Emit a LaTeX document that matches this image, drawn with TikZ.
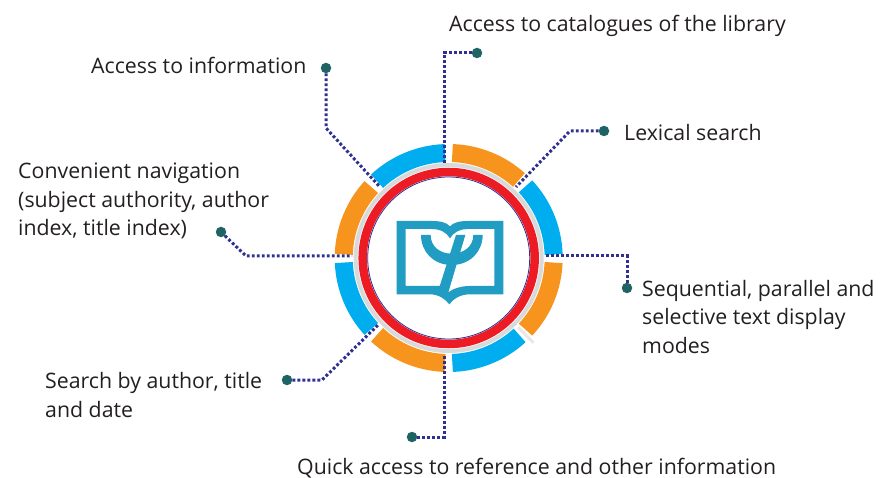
\documentclass[tikz,border=0pt]{standalone}
\usepackage{fontspec}
\setmainfont{Open Sans}
\definecolor{ringblue}{HTML}{00AEEF}
\definecolor{ringorange}{HTML}{F7941D}
\definecolor{ringred}{HTML}{ED1C24}
\definecolor{ringgray}{HTML}{D9D9D9}
\definecolor{bookblue}{HTML}{219DC3}
\definecolor{linknavy}{HTML}{2E3192}
\definecolor{dotteal}{HTML}{1F6464}
\definecolor{textcol}{HTML}{231F20}
\tikzset{
  label/.style={anchor=west,align=left,inner sep=0pt,text=textcol,font=\fontsize{21.3}{28.5}\selectfont},
  pin/.style={circle,fill=dotteal,inner sep=0pt,minimum size=10.5pt},
  link/.style={draw=linknavy,line width=3pt,dash pattern=on 2.8pt off 2.2pt},
  segblue/.style={draw=ringblue,line width=18pt},
  segorange/.style={draw=ringorange,line width=18pt}
}
\begin{document}
\begin{tikzpicture}[x=1pt,y=-1pt]
\useasboundingbox (0,0) rectangle (881,478);
% connectors
\node[pin] (p1) at (326,68) {};
\node[pin] (p2) at (477,53) {};
\node[pin] (p3) at (604,131) {};
\node[pin] (p4) at (627,288) {};
\node[pin] (p5) at (412,437) {};
\node[pin] (p6) at (287,380) {};
\node[pin] (p7) at (221,232) {};
\coordinate (e1) at (379,186);
\coordinate (e2) at (444,163);
\coordinate (e3) at (516,187);
\coordinate (e4) at (546,256);
\coordinate (e5) at (444,354);
\coordinate (e6) at (378,325);
\coordinate (e7) at (352,256);
% ring
\begin{scope}[shift={(448.7,258)},x=1pt,y=1pt]
  \draw[segblue]   (92:105pt)   arc[start angle=92,end angle=133,radius=105pt];
  \draw[segorange] (88:105pt)   arc[start angle=88,end angle=48,radius=105pt];
  \draw[segblue]   (43:105pt)   arc[start angle=43,end angle=2,radius=105pt];
  \draw[segorange] (-2.5:105pt) arc[start angle=-2.5,end angle=-43,radius=105pt];
  \draw[segblue]   (-47.5:105pt) arc[start angle=-47.5,end angle=-88,radius=105pt];
  \draw[segorange] (-92:105pt)  arc[start angle=-92,end angle=-133,radius=105pt];
  \draw[segblue]   (-137.5:105pt) arc[start angle=-137.5,end angle=-177.5,radius=105pt];
  \draw[segorange] (178:105pt)  arc[start angle=178,end angle=137.5,radius=105pt];
  \draw[ringgray!60,line width=3pt] (-45:98pt) -- (-45:120pt);
  \fill[ringgray] (0,0) circle[radius=95pt];
  \fill[white] (0,0) circle[radius=91pt];
  \draw[ringred,line width=8.5pt] (0,0) circle[radius=86pt];
  \draw[linknavy,line width=0.8pt] (0,0) circle[radius=81pt];
\end{scope}
\draw[link] (p1) -- (326,128) -- (e1);
\draw[link] (p2) -- (444,53) -- (e2);
\draw[link] (p3) -- (570,131) -- (e3);
\draw[link] (p4) -- (627,256) -- (e4);
\draw[link] (p5) -- (444,437) -- (e5);
\draw[link] (p6) -- (322,380) -- (e6);
\draw[link] (p7) -- (246,256) -- (e7);
% book logo (zoom coordinates)
\begin{scope}[shift={(390,205)},x=0.3333pt,y=-0.3333pt]
  \fill[bookblue,even odd rule]
    (20,48) -- (125,48) .. controls (150,48) and (170,52) .. (180,64)
    .. controls (190,52) and (210,48) .. (235,48) -- (340,48) -- (340,268) -- (240,268)
    .. controls (210,268) and (190,282) .. (178,298)
    .. controls (166,282) and (146,268) .. (120,268) -- (20,268) -- cycle
    (47,72) -- (47,243) -- (150,243) -- (175,262)
    .. controls (190,250) and (215,243) .. (240,243) -- (313,243) -- (313,72) -- (232,72)
    .. controls (210,72) and (190,82) .. (180,100)
    .. controls (170,82) and (150,72) .. (125,72) -- cycle;
  \fill[bookblue] (93,90) -- (122,90) .. controls (122,125) and (150,146) .. (185,146)
    .. controls (220,146) and (250,125) .. (250,90) -- (278,90)
    .. controls (278,140) and (240,180) .. (185,180)
    .. controls (130,180) and (93,140) .. (93,90) -- cycle;
  \fill[bookblue] (198,90) -- (226,90) -- (175,262) -- (147,250) -- cycle;
\end{scope}
% labels
\node[label] (t1) at (91,65) {Access to information};
\node[label] (t2) at (449,25.5) {Access to catalogues of the library};
\node[label] (t3) at (624,132.5) {Lexical search};
\node[label] (t4) at (642,317) {Sequential, parallel and\\selective text display\\modes};
\node[label] (t5) at (297,468) {Quick access to reference and other information};
\node[label] (t6) at (45,395) {Search by author, title\\and date};
\node[label] (t7) at (18,201) {Convenient navigation\\(subject authority, author\\index, title index)};
\end{tikzpicture}
\end{document}
